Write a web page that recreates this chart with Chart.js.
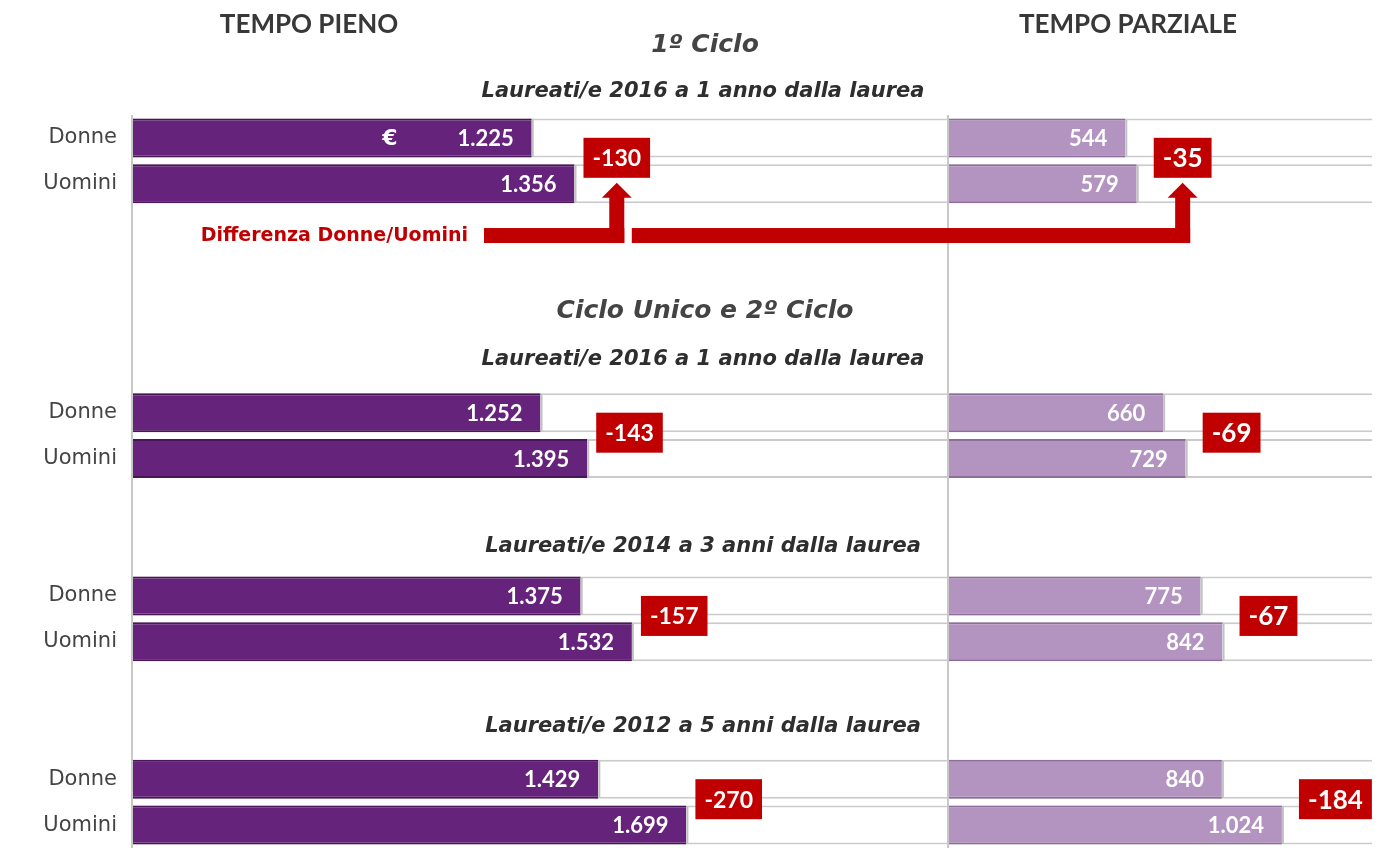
<!doctype html>
<html lang="it">
<head>
<meta charset="UTF-8" />
<script src="https://cdn.jsdelivr.net/npm/chart.js@4.4.1/dist/chart.umd.min.js"></script>
<style>
  html, body { margin: 0; padding: 0; background: #fff; }
  #wrap { position: relative; width: 1392px; height: 848px; }
</style>
</head>
<body>
<div id="wrap"><canvas id="chart"></canvas></div>
<script>
  // righe dell'asse: le righe vuote lasciano spazio ai titoli
  const rowLabels = ['Donne', 'Uomini', '', '', '', '', 'Donne', 'Uomini', '', '', 'Donne', 'Uomini', '', '', 'Donne', 'Uomini'];
  const groupStart = [0, 6, 10, 14];
  const subtitles = [
    'Laureati/e 2016 a 1 anno dalla laurea',
    'Laureati/e 2016 a 1 anno dalla laurea',
    'Laureati/e 2014 a 3 anni dalla laurea',
    'Laureati/e 2012 a 5 anni dalla laurea'
  ];
  const donnePieno = [1225, 1252, 1375, 1429];
  const uominiPieno = [1356, 1395, 1532, 1699];
  const diffPieno = [-130, -143, -157, -270];
  const donneParziale = [544, 660, 775, 840];
  const uominiParziale = [579, 729, 842, 1024];
  const diffParziale = [-35, -69, -67, -184];
  const maxPieno = 2500;
  const maxParziale = 1300;
  const euroAt = 790;

  const RED = '#c00000';
  const TXT = '#383838';

  function toRows(donne, uomini) {
    const rows = rowLabels.map(() => null);
    groupStart.forEach((r, i) => { rows[r] = donne[i]; rows[r + 1] = uomini[i]; });
    return rows;
  }
  function fmt(v) {
    return v.toString().replace(/\B(?=(\d{3})+(?!\d))/g, '.');
  }

  function diffBox(ctx, scale, yScale, g, donne, uomini, diff, gap, size) {
    const r = groupStart[g];
    const yMid = (yScale.getPixelForValue(r) + yScale.getPixelForValue(r + 1)) / 2 - 3;
    const text = String(diff[g]);
    ctx.font = 'bold ' + size + 'px Lato';
    const w = ctx.measureText(text).width + 18;
    const x = scale.getPixelForValue(Math.max(donne[g], uomini[g])) + gap;
    ctx.fillStyle = RED;
    ctx.fillRect(x, yMid - 20, w, 40);
    ctx.fillStyle = '#fff';
    ctx.textAlign = 'center';
    ctx.textBaseline = 'middle';
    ctx.fillText(text, x + w / 2, yMid + 1);
    return { cx: x + w / 2, bottom: yMid + 20 };
  }

  function arrowHead(ctx, cx, boxBottom, bandBottom) {
    ctx.fillRect(cx - 7.5, boxBottom + 19, 15, bandBottom - boxBottom - 19);
    ctx.beginPath();
    ctx.moveTo(cx - 15, boxBottom + 20);
    ctx.lineTo(cx + 15, boxBottom + 20);
    ctx.lineTo(cx, boxBottom + 5);
    ctx.closePath();
    ctx.fill();
  }

  const labelPlugin = {
    id: 'labelPlugin',
    afterDraw(chart) {
      const ctx = chart.ctx;
      const xl = chart.scales.xl, xr = chart.scales.xr, y = chart.scales.y;
      ctx.save();

      // titoli
      ctx.fillStyle = TXT;
      ctx.textAlign = 'center';
      ctx.textBaseline = 'middle';
      ctx.font = 'bold 26px Lato';
      ctx.fillText('TEMPO PIENO', 309, 25);
      ctx.fillText('TEMPO PARZIALE', 1128, 25);
      ctx.fillStyle = '#444';
      ctx.font = 'italic bold 25px "DejaVu Sans"';
      ctx.fillText('1º Ciclo', 705, 45);
      ctx.fillText('Ciclo Unico e 2º Ciclo', 705, 311);
      ctx.fillStyle = '#2e2e2e';
      ctx.font = 'italic bold 21px "DejaVu Sans"';
      [92, 360, 547, 727].forEach((ty, i) => ctx.fillText(subtitles[i], 703, ty));

      // valori dentro le barre
      chart.data.datasets.forEach((ds, di) => {
        if (!ds.showValues) return;
        const meta = chart.getDatasetMeta(di);
        meta.data.forEach((bar, i) => {
          const v = ds.data[i];
          if (v == null) return;
          ctx.fillStyle = '#c2c2c2';
          ctx.fillRect(bar.x, bar.y - bar.height / 2 + 1, 2, bar.height - 2);
          ctx.fillStyle = '#fff';
          ctx.font = 'bold 22px Lato';
          ctx.textAlign = 'right';
          ctx.textBaseline = 'middle';
          ctx.fillText(fmt(v), bar.x - 18, bar.y + 1);
        });
      });
      ctx.font = 'bold 22px "DejaVu Sans"';
      ctx.textAlign = 'center';
      ctx.fillText('€', xl.getPixelForValue(euroAt), y.getPixelForValue(0) + 1);

      // differenze Donne - Uomini
      const boxesL = groupStart.map((r, g) => diffBox(ctx, xl, y, g, donnePieno, uominiPieno, diffPieno, 9, 23));
      const boxesR = groupStart.map((r, g) => diffBox(ctx, xr, y, g, donneParziale, uominiParziale, diffParziale, 17, 26));

      // frecce
      const bandMid = y.getPixelForValue(2) + 6;
      const b1 = boxesL[0], b2 = boxesR[0];
      ctx.fillStyle = RED;
      ctx.fillRect(484, bandMid - 7.5, b1.cx + 7.5 - 484, 15);
      arrowHead(ctx, b1.cx, b1.bottom, bandMid + 7.5);
      ctx.fillRect(b1.cx + 15, bandMid - 7.5, b2.cx + 7.5 - (b1.cx + 15), 15);
      arrowHead(ctx, b2.cx, b2.bottom, bandMid + 7.5);
      ctx.font = 'bold 19px "DejaVu Sans"';
      ctx.textAlign = 'right';
      ctx.textBaseline = 'middle';
      ctx.fillText('Differenza Donne/Uomini', 468, bandMid + 1);

      ctx.restore();
    }
  };

  const barStyle = {
    borderWidth: { top: 2, bottom: 2, left: 0, right: 0 },
    borderSkipped: false,
    grouped: false,
    categoryPercentage: 0.85,
    barPercentage: 1
  };

  new Chart(document.getElementById('chart'), {
    type: 'bar',
    data: {
      labels: rowLabels,
      datasets: [
        Object.assign({
          label: 'Tempo pieno',
          data: toRows(donnePieno, uominiPieno),
          xAxisID: 'xl',
          backgroundColor: '#66237c',
          borderColor: '#4a1659',
          showValues: true,
          order: 1
        }, barStyle),
        Object.assign({
          label: 'Tempo parziale',
          data: toRows(donneParziale, uominiParziale),
          xAxisID: 'xr',
          backgroundColor: '#b394c0',
          borderColor: '#8e6d9c',
          showValues: true,
          order: 1
        }, barStyle),
        Object.assign({
          label: 'fondo pieno',
          data: toRows(donnePieno.map(() => maxPieno), uominiPieno.map(() => maxPieno)),
          xAxisID: 'xl',
          backgroundColor: '#fff',
          borderColor: '#cbcbcb',
          order: 2
        }, barStyle),
        Object.assign({
          label: 'fondo parziale',
          data: toRows(donneParziale.map(() => maxParziale), uominiParziale.map(() => maxParziale)),
          xAxisID: 'xr',
          backgroundColor: '#fff',
          borderColor: '#cbcbcb',
          order: 2
        }, barStyle)
      ]
    },
    options: {
      indexAxis: 'y',
      responsive: true,
      maintainAspectRatio: false,
      animation: false,
      events: [],
      layout: { padding: { top: 115, right: 20, bottom: 0, left: 0 } },
      plugins: { legend: { display: false }, tooltip: { enabled: false } },
      scales: {
        y: {
          grid: { display: false, drawTicks: false },
          border: { display: false },
          ticks: {
            autoSkip: false,
            padding: 15,
            color: '#444',
            font: { family: 'DejaVu Sans', size: 21 }
          },
          afterFit: (scale) => {
            scale.width = 132;
            scale.paddingTop = 0;
            scale.paddingBottom = 0;
          }
        },
        xl: {
          type: 'linear',
          position: 'bottom',
          stack: 'panels',
          stackWeight: maxPieno,
          min: 0,
          max: maxPieno,
          ticks: { display: false, stepSize: maxPieno },
          grid: { color: '#c8c8c8', lineWidth: 2, drawTicks: false, z: 1 },
          border: { display: false },
          afterFit: (scale) => { scale.height = 0; }
        },
        xr: {
          type: 'linear',
          position: 'bottom',
          stack: 'panels',
          stackWeight: maxParziale,
          min: 0,
          max: maxParziale,
          ticks: { display: false },
          grid: { display: false, drawTicks: false },
          border: { display: false },
          afterFit: (scale) => { scale.height = 0; }
        }
      }
    },
    plugins: [labelPlugin]
  });
</script>
</body>
</html>
